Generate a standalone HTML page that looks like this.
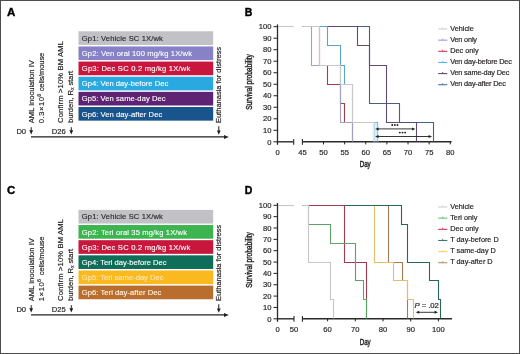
<!DOCTYPE html>
<html><head><meta charset="utf-8"><style>
html,body{margin:0;padding:0;background:#fff;}
body{width:520px;height:354px;overflow:hidden;}
svg{display:block;will-change:transform;}
text{font-family:"Liberation Sans", sans-serif;}
</style></head><body>
<svg width="520" height="354" viewBox="0 0 520 354">
<rect x="0" y="0" width="520" height="354" fill="#ffffff"/>
<text transform="translate(6.9,15.95) scale(1.09,1)" font-size="10.6" font-weight="bold" fill="#000" stroke="#000" stroke-width="0.35">A</text>
<rect x="78.5" y="31.30" width="134.7" height="13.65" fill="#c1c1c6"/>
<text x="81.8" y="40.8" font-size="7.6" fill="#231f20" stroke="#231f20" stroke-width="0.12" text-anchor="start" font-weight="normal" letter-spacing="0.130" >Gp1: Vehicle SC 1X/wk</text>
<rect x="78.5" y="46.44" width="134.7" height="13.65" fill="#8782c8"/>
<text x="81.8" y="55.94" font-size="7.6" fill="#ffffff" stroke="#ffffff" stroke-width="0.12" text-anchor="start" font-weight="normal" letter-spacing="0.120" >Gp2: Ven oral 100 mg/kg 1X/wk</text>
<rect x="78.5" y="61.58" width="134.7" height="13.65" fill="#c8163c"/>
<text x="81.8" y="71.08" font-size="7.6" fill="#ffffff" stroke="#ffffff" stroke-width="0.12" text-anchor="start" font-weight="normal" letter-spacing="0.210" >Gp3: Dec SC 0.2 mg/kg 1X/wk</text>
<rect x="78.5" y="76.72" width="134.7" height="13.65" fill="#2aa8e0"/>
<text x="81.8" y="86.22" font-size="7.6" fill="#ffffff" stroke="#ffffff" stroke-width="0.12" text-anchor="start" font-weight="normal" letter-spacing="0.032" >Gp4: Ven day-before Dec</text>
<rect x="78.5" y="91.86" width="134.7" height="13.65" fill="#5f2373"/>
<text x="81.8" y="101.36" font-size="7.6" fill="#ffffff" stroke="#ffffff" stroke-width="0.12" text-anchor="start" font-weight="normal" letter-spacing="0.050" >Gp5: Ven same-day Dec</text>
<rect x="78.5" y="107.00" width="134.7" height="13.65" fill="#19558c"/>
<text x="81.8" y="116.5" font-size="7.6" fill="#ffffff" stroke="#ffffff" stroke-width="0.12" text-anchor="start" font-weight="normal" letter-spacing="0.050" >Gp6: Ven day-after Dec</text>
<text transform="translate(33.9,123.2) rotate(-90) scale(1.0,1)" font-size="7.6" fill="#231f20" stroke="#231f20" stroke-width="0.18" text-anchor="start" >AML inoculation IV</text>
<text transform="translate(43.7,123.2) rotate(-90) scale(1.0,1)" font-size="7.6" fill="#231f20" stroke="#231f20" stroke-width="0.18" text-anchor="start" ><tspan letter-spacing="0.55">0.3×1</tspan>0<tspan font-size="5.6" dy="-3.1" dx="0.3">6</tspan><tspan dy="3.1" dx="0.3" letter-spacing="-0.15"> cells/mouse</tspan></text>
<text transform="translate(63.1,123.0) rotate(-90) scale(1.0,1)" font-size="7.6" fill="#231f20" stroke="#231f20" stroke-width="0.18" text-anchor="start" letter-spacing="0.160" >Confirm &gt;10% BM AML</text>
<text transform="translate(72.9,123.0) rotate(-90) scale(1.0,1)" font-size="7.6" fill="#231f20" stroke="#231f20" stroke-width="0.18" text-anchor="start" letter-spacing="-0.050" >burden, R<tspan font-size="5" dy="1.5">x</tspan><tspan dy="-1.5"> start</tspan></text>
<text transform="translate(221.4,123.0) rotate(-90) scale(1.0,1)" font-size="7.6" fill="#231f20" stroke="#231f20" stroke-width="0.18" text-anchor="start" letter-spacing="-0.050" >Euthanasia for distress</text>
<line x1="31.0" y1="136.8" x2="225.5" y2="136.8" stroke="#231f20" stroke-width="1.25" />
<polygon points="224.0,134.9 228.8,136.9 224.0,138.9" fill="#231f20"/>
<text x="16.4" y="133.8" font-size="7.6" fill="#231f20" stroke="#231f20" stroke-width="0.18" text-anchor="start" font-weight="normal" >D0</text>
<line x1="31.2" y1="127.2" x2="31.2" y2="131.6" stroke="#231f20" stroke-width="1.0" />
<polygon points="29.3,130.29999999999998 33.1,130.29999999999998 31.2,134.6" fill="#231f20"/>
<text x="51.7" y="133.8" font-size="7.6" fill="#231f20" stroke="#231f20" stroke-width="0.18" text-anchor="start" font-weight="normal" >D26</text>
<line x1="71.3" y1="127.2" x2="71.3" y2="131.6" stroke="#231f20" stroke-width="1.0" />
<polygon points="69.39999999999999,130.29999999999998 73.2,130.29999999999998 71.3,134.6" fill="#231f20"/>
<line x1="218.8" y1="126.2" x2="218.8" y2="131.7" stroke="#231f20" stroke-width="1.0" />
<polygon points="216.9,130.39999999999998 220.70000000000002,130.39999999999998 218.8,134.7" fill="#231f20"/>
<text transform="translate(6.9,193.95) scale(1.09,1)" font-size="10.6" font-weight="bold" fill="#000" stroke="#000" stroke-width="0.35">C</text>
<rect x="78.5" y="209.90" width="134.7" height="13.65" fill="#c1c1c6"/>
<text x="81.8" y="219.4" font-size="7.6" fill="#231f20" stroke="#231f20" stroke-width="0.12" text-anchor="start" font-weight="normal" letter-spacing="0.130" >Gp1: Vehicle SC 1X/wk</text>
<rect x="78.5" y="225.04" width="134.7" height="13.65" fill="#3cb450"/>
<text x="81.8" y="234.54" font-size="7.6" fill="#ffffff" stroke="#ffffff" stroke-width="0.12" text-anchor="start" font-weight="normal" letter-spacing="0.130" >Gp2: Teri oral 35 mg/kg 1X/wk</text>
<rect x="78.5" y="240.18" width="134.7" height="13.65" fill="#c8163c"/>
<text x="81.8" y="249.68" font-size="7.6" fill="#ffffff" stroke="#ffffff" stroke-width="0.12" text-anchor="start" font-weight="normal" letter-spacing="0.210" >Gp3: Dec SC 0.2 mg/kg 1X/wk</text>
<rect x="78.5" y="255.32" width="134.7" height="13.65" fill="#0f6e5a"/>
<text x="81.8" y="264.82" font-size="7.6" fill="#ffffff" stroke="#ffffff" stroke-width="0.12" text-anchor="start" font-weight="normal" >Gp4: Teri day-before Dec</text>
<rect x="78.5" y="270.46" width="134.7" height="13.65" fill="#fab91e"/>
<text x="81.8" y="279.96" font-size="7.6" fill="#fde7b0" stroke="#fde7b0" stroke-width="0.12" text-anchor="start" font-weight="normal" >Gp5: Teri same-day Dec</text>
<rect x="78.5" y="285.60" width="134.7" height="13.65" fill="#b96e2d"/>
<text x="81.8" y="295.1" font-size="7.6" fill="#fff4e8" stroke="#fff4e8" stroke-width="0.12" text-anchor="start" font-weight="normal" letter-spacing="0.050" >Gp6: Teri day-after Dec</text>
<text transform="translate(33.9,301.2) rotate(-90) scale(1.0,1)" font-size="7.6" fill="#231f20" stroke="#231f20" stroke-width="0.18" text-anchor="start" >AML inoculation IV</text>
<text transform="translate(43.7,301.2) rotate(-90) scale(1.0,1)" font-size="7.6" fill="#231f20" stroke="#231f20" stroke-width="0.18" text-anchor="start" ><tspan letter-spacing="0.6">1×1</tspan>0<tspan font-size="5.6" dy="-3.1" dx="0.4">6</tspan><tspan dy="3.1" dx="1.6" letter-spacing="-0.15"> cells/mouse</tspan></text>
<text transform="translate(63.1,301.0) rotate(-90) scale(1.0,1)" font-size="7.6" fill="#231f20" stroke="#231f20" stroke-width="0.18" text-anchor="start" letter-spacing="0.160" >Confirm &gt;10% BM AML</text>
<text transform="translate(72.9,301.0) rotate(-90) scale(1.0,1)" font-size="7.6" fill="#231f20" stroke="#231f20" stroke-width="0.18" text-anchor="start" letter-spacing="-0.050" >burden, R<tspan font-size="5" dy="1.5">x</tspan><tspan dy="-1.5"> start</tspan></text>
<text transform="translate(221.4,301.0) rotate(-90) scale(1.0,1)" font-size="7.6" fill="#231f20" stroke="#231f20" stroke-width="0.18" text-anchor="start" letter-spacing="-0.050" >Euthanasia for distress</text>
<line x1="31.0" y1="314.8" x2="225.5" y2="314.8" stroke="#231f20" stroke-width="1.25" />
<polygon points="224.0,312.9 228.8,314.9 224.0,316.9" fill="#231f20"/>
<text x="16.4" y="311.8" font-size="7.6" fill="#231f20" stroke="#231f20" stroke-width="0.18" text-anchor="start" font-weight="normal" >D0</text>
<line x1="31.2" y1="305.2" x2="31.2" y2="309.6" stroke="#231f20" stroke-width="1.0" />
<polygon points="29.3,308.3 33.1,308.3 31.2,312.6" fill="#231f20"/>
<text x="51.7" y="311.8" font-size="7.6" fill="#231f20" stroke="#231f20" stroke-width="0.18" text-anchor="start" font-weight="normal" >D25</text>
<line x1="71.3" y1="305.2" x2="71.3" y2="309.6" stroke="#231f20" stroke-width="1.0" />
<polygon points="69.39999999999999,308.3 73.2,308.3 71.3,312.6" fill="#231f20"/>
<line x1="218.8" y1="304.2" x2="218.8" y2="309.7" stroke="#231f20" stroke-width="1.0" />
<polygon points="216.9,308.4 220.70000000000002,308.4 218.8,312.7" fill="#231f20"/>
<text x="244.8" y="15.9" font-size="10.5" fill="#000" stroke="#000" stroke-width="0.4" text-anchor="start" font-weight="bold" >B</text>
<line x1="277.5" y1="24.4" x2="277.5" y2="144.60000000000002" stroke="#2a2a2a" stroke-width="1.3" />
<line x1="273.5" y1="141.8" x2="277.5" y2="141.8" stroke="#231f20" stroke-width="1.0" />
<text x="271.4" y="144.5" font-size="7.6" fill="#231f20" stroke="#231f20" stroke-width="0.18" text-anchor="end" font-weight="normal" >0</text>
<line x1="273.5" y1="130.29000000000002" x2="277.5" y2="130.29000000000002" stroke="#231f20" stroke-width="1.0" />
<text x="271.4" y="132.99" font-size="7.6" fill="#231f20" stroke="#231f20" stroke-width="0.18" text-anchor="end" font-weight="normal" >10</text>
<line x1="273.5" y1="118.78000000000002" x2="277.5" y2="118.78000000000002" stroke="#231f20" stroke-width="1.0" />
<text x="271.4" y="121.48" font-size="7.6" fill="#231f20" stroke="#231f20" stroke-width="0.18" text-anchor="end" font-weight="normal" >20</text>
<line x1="273.5" y1="107.27000000000001" x2="277.5" y2="107.27000000000001" stroke="#231f20" stroke-width="1.0" />
<text x="271.4" y="109.97" font-size="7.6" fill="#231f20" stroke="#231f20" stroke-width="0.18" text-anchor="end" font-weight="normal" >30</text>
<line x1="273.5" y1="95.76000000000002" x2="277.5" y2="95.76000000000002" stroke="#231f20" stroke-width="1.0" />
<text x="271.4" y="98.46" font-size="7.6" fill="#231f20" stroke="#231f20" stroke-width="0.18" text-anchor="end" font-weight="normal" >40</text>
<line x1="273.5" y1="84.25000000000001" x2="277.5" y2="84.25000000000001" stroke="#231f20" stroke-width="1.0" />
<text x="271.4" y="86.95" font-size="7.6" fill="#231f20" stroke="#231f20" stroke-width="0.18" text-anchor="end" font-weight="normal" >50</text>
<line x1="273.5" y1="72.74000000000001" x2="277.5" y2="72.74000000000001" stroke="#231f20" stroke-width="1.0" />
<text x="271.4" y="75.44" font-size="7.6" fill="#231f20" stroke="#231f20" stroke-width="0.18" text-anchor="end" font-weight="normal" >60</text>
<line x1="273.5" y1="61.230000000000004" x2="277.5" y2="61.230000000000004" stroke="#231f20" stroke-width="1.0" />
<text x="271.4" y="63.93" font-size="7.6" fill="#231f20" stroke="#231f20" stroke-width="0.18" text-anchor="end" font-weight="normal" >70</text>
<line x1="273.5" y1="49.72000000000001" x2="277.5" y2="49.72000000000001" stroke="#231f20" stroke-width="1.0" />
<text x="271.4" y="52.42" font-size="7.6" fill="#231f20" stroke="#231f20" stroke-width="0.18" text-anchor="end" font-weight="normal" >80</text>
<line x1="273.5" y1="38.21000000000001" x2="277.5" y2="38.21000000000001" stroke="#231f20" stroke-width="1.0" />
<text x="271.4" y="40.91" font-size="7.6" fill="#231f20" stroke="#231f20" stroke-width="0.18" text-anchor="end" font-weight="normal" >90</text>
<line x1="273.5" y1="26.700000000000017" x2="277.5" y2="26.700000000000017" stroke="#231f20" stroke-width="1.0" />
<text x="271.4" y="29.4" font-size="7.6" fill="#231f20" stroke="#231f20" stroke-width="0.18" text-anchor="end" font-weight="normal" >100</text>
<line x1="277.5" y1="141.8" x2="293.7" y2="141.8" stroke="#2a2a2a" stroke-width="1.4" />
<line x1="302.4" y1="141.8" x2="451.6" y2="141.8" stroke="#2a2a2a" stroke-width="1.4" />
<line x1="293.7" y1="138.9" x2="293.7" y2="144.70000000000002" stroke="#2a2a2a" stroke-width="1.1" />
<line x1="302.4" y1="138.9" x2="302.4" y2="144.70000000000002" stroke="#2a2a2a" stroke-width="1.1" />
<line x1="277.5" y1="141.8" x2="277.5" y2="144.4" stroke="#231f20" stroke-width="1.0" />
<text x="277.5" y="154.7" font-size="7.6" fill="#231f20" stroke="#231f20" stroke-width="0.18" text-anchor="middle" font-weight="normal" >0</text>
<text x="302.4" y="154.7" font-size="7.6" fill="#231f20" stroke="#231f20" stroke-width="0.18" text-anchor="middle" font-weight="normal" >45</text>
<line x1="323.52" y1="141.8" x2="323.52" y2="144.4" stroke="#231f20" stroke-width="1.0" />
<text x="323.52" y="154.7" font-size="7.6" fill="#231f20" stroke="#231f20" stroke-width="0.18" text-anchor="middle" font-weight="normal" >50</text>
<line x1="344.65" y1="141.8" x2="344.65" y2="144.4" stroke="#231f20" stroke-width="1.0" />
<text x="344.65" y="154.7" font-size="7.6" fill="#231f20" stroke="#231f20" stroke-width="0.18" text-anchor="middle" font-weight="normal" >55</text>
<line x1="365.77" y1="141.8" x2="365.77" y2="144.4" stroke="#231f20" stroke-width="1.0" />
<text x="365.77" y="154.7" font-size="7.6" fill="#231f20" stroke="#231f20" stroke-width="0.18" text-anchor="middle" font-weight="normal" >60</text>
<line x1="386.9" y1="141.8" x2="386.9" y2="144.4" stroke="#231f20" stroke-width="1.0" />
<text x="386.9" y="154.7" font-size="7.6" fill="#231f20" stroke="#231f20" stroke-width="0.18" text-anchor="middle" font-weight="normal" >65</text>
<line x1="408.02" y1="141.8" x2="408.02" y2="144.4" stroke="#231f20" stroke-width="1.0" />
<text x="408.02" y="154.7" font-size="7.6" fill="#231f20" stroke="#231f20" stroke-width="0.18" text-anchor="middle" font-weight="normal" >70</text>
<line x1="429.15" y1="141.8" x2="429.15" y2="144.4" stroke="#231f20" stroke-width="1.0" />
<text x="429.15" y="154.7" font-size="7.6" fill="#231f20" stroke="#231f20" stroke-width="0.18" text-anchor="middle" font-weight="normal" >75</text>
<line x1="450.27" y1="141.8" x2="450.27" y2="144.4" stroke="#231f20" stroke-width="1.0" />
<text x="450.27" y="154.7" font-size="7.6" fill="#231f20" stroke="#231f20" stroke-width="0.18" text-anchor="middle" font-weight="normal" >80</text>
<text transform="translate(365.2,167.4) scale(0.72,1)" font-size="8.6" fill="#231f20" stroke="#231f20" stroke-width="0.4" text-anchor="middle">Day</text>
<text transform="translate(252.3,82) rotate(-90) scale(0.80,1)" font-size="8.3" fill="#231f20" stroke="#231f20" stroke-width="0.38" text-anchor="middle">Survival probability</text>
<line x1="438.2" y1="29.0" x2="447.3" y2="29.0" stroke="#c9c9cc" stroke-width="1.0" />
<line x1="442.7" y1="27.4" x2="442.7" y2="29.0" stroke="#c9c9cc" stroke-width="0.8" />
<text x="450.2" y="30.6" font-size="7.3" fill="#231f20" stroke="#231f20" stroke-width="0.18" text-anchor="start" font-weight="normal" >Vehicle</text>
<line x1="438.2" y1="40.15" x2="447.3" y2="40.15" stroke="#9490d0" stroke-width="1.0" />
<line x1="442.7" y1="38.55" x2="442.7" y2="40.15" stroke="#9490d0" stroke-width="0.8" />
<text x="450.2" y="41.75" font-size="7.3" fill="#231f20" stroke="#231f20" stroke-width="0.18" text-anchor="start" font-weight="normal" letter-spacing="-0.170" >Ven only</text>
<line x1="438.2" y1="51.3" x2="447.3" y2="51.3" stroke="#c8284a" stroke-width="1.0" />
<line x1="442.7" y1="49.699999999999996" x2="442.7" y2="51.3" stroke="#c8284a" stroke-width="0.8" />
<text x="450.2" y="52.9" font-size="7.3" fill="#231f20" stroke="#231f20" stroke-width="0.18" text-anchor="start" font-weight="normal" >Dec only</text>
<line x1="438.2" y1="62.45" x2="447.3" y2="62.45" stroke="#48b4e0" stroke-width="1.0" />
<line x1="442.7" y1="60.85" x2="442.7" y2="62.45" stroke="#48b4e0" stroke-width="0.8" />
<text x="450.2" y="64.05" font-size="7.3" fill="#231f20" stroke="#231f20" stroke-width="0.18" text-anchor="start" font-weight="normal" letter-spacing="-0.170" >Ven day-before Dec</text>
<line x1="438.2" y1="73.6" x2="447.3" y2="73.6" stroke="#5a3a6e" stroke-width="1.0" />
<line x1="442.7" y1="72.0" x2="442.7" y2="73.6" stroke="#5a3a6e" stroke-width="0.8" />
<text x="450.2" y="75.2" font-size="7.3" fill="#231f20" stroke="#231f20" stroke-width="0.18" text-anchor="start" font-weight="normal" letter-spacing="-0.170" >Ven same-day Dec</text>
<line x1="438.2" y1="84.75" x2="447.3" y2="84.75" stroke="#3a6496" stroke-width="1.0" />
<line x1="442.7" y1="83.15" x2="442.7" y2="84.75" stroke="#3a6496" stroke-width="0.8" />
<text x="450.2" y="86.35" font-size="7.3" fill="#231f20" stroke="#231f20" stroke-width="0.18" text-anchor="start" font-weight="normal" letter-spacing="-0.170" >Ven day-after Dec</text>
<polyline points="302.4,26.5 369.5,26.5 369.5,103.5 399.5,103.5 399.5,122.5 433.5,122.5 433.5,141.5" fill="none" stroke="#426289" stroke-width="1.1" stroke-linejoin="miter" stroke-linecap="butt"/>
<polyline points="302.4,26.5 357.5,26.5 357.5,45.5 369.5,45.5 369.5,65.5 386.5,65.5 386.5,122.5 416.5,122.5 416.5,141.5" fill="none" stroke="#5f4a70" stroke-width="1.1" stroke-linejoin="miter" stroke-linecap="butt"/>
<polyline points="302.4,26.5 327.5,26.5 327.5,45.5 340.5,45.5 340.5,65.5 344.5,65.5 344.5,84.5 352.5,84.5 352.5,122.5 377.5,122.5 377.5,141.5" fill="none" stroke="#59a5c9" stroke-width="1.1" stroke-linejoin="miter" stroke-linecap="butt"/>
<polyline points="302.4,26.5 319.5,26.5 319.5,65.5 327.5,65.5 327.5,84.5 340.5,84.5 340.5,103.5 344.5,103.5 344.5,122.5 352.5,122.5 352.5,141.5" fill="none" stroke="#a53b51" stroke-width="1.1" stroke-linejoin="miter" stroke-linecap="butt"/>
<polyline points="302.4,26.5 311.5,26.5 311.5,65.5 340.5,65.5 340.5,122.5 352.5,122.5 352.5,141.5" fill="none" stroke="#a39fc2" stroke-width="1.1" stroke-linejoin="miter" stroke-linecap="butt"/>
<line x1="278.0" y1="26.5" x2="293.7" y2="26.5" stroke="#c8c8cb" stroke-width="1.1"/>
<polyline points="302.4,26.5 319.5,26.5 319.5,65.5 340.5,65.5 340.5,84.5 352.5,84.5 352.5,122.5 374.5,122.5 374.5,141.5" fill="none" stroke="#c8c8cb" stroke-width="1.1" stroke-linejoin="miter" stroke-linecap="butt"/>
<rect x="372.6" y="122.5" width="6.0" height="19.0" fill="#bfe6f5" opacity="0.55"/>
<line x1="377.7" y1="128.9" x2="412.9" y2="128.9" stroke="#231f20" stroke-width="0.9" />
<polygon points="375.2,128.9 378.59999999999997,127.4 378.59999999999997,130.4" fill="#231f20"/>
<polygon points="415.4,128.9 412.0,127.4 412.0,130.4" fill="#231f20"/>
<line x1="377.7" y1="136.5" x2="429.5" y2="136.5" stroke="#231f20" stroke-width="0.9" />
<polygon points="375.2,136.5 378.59999999999997,135.0 378.59999999999997,138.0" fill="#231f20"/>
<polygon points="432.0,136.5 428.6,135.0 428.6,138.0" fill="#231f20"/>
<circle cx="392.20" cy="125.0" r="0.95" fill="#231f20"/>
<circle cx="394.85" cy="125.0" r="0.95" fill="#231f20"/>
<circle cx="397.50" cy="125.0" r="0.95" fill="#231f20"/>
<circle cx="399.80" cy="132.6" r="0.95" fill="#231f20"/>
<circle cx="402.45" cy="132.6" r="0.95" fill="#231f20"/>
<circle cx="405.10" cy="132.6" r="0.95" fill="#231f20"/>
<text x="244.8" y="193.9" font-size="10.5" fill="#000" stroke="#000" stroke-width="0.4" text-anchor="start" font-weight="bold" >D</text>
<line x1="277.5" y1="203.0" x2="277.5" y2="321.6" stroke="#2a2a2a" stroke-width="1.3" />
<line x1="273.5" y1="318.8" x2="277.5" y2="318.8" stroke="#231f20" stroke-width="1.0" />
<text x="271.4" y="321.5" font-size="7.6" fill="#231f20" stroke="#231f20" stroke-width="0.18" text-anchor="end" font-weight="normal" >0</text>
<line x1="273.5" y1="307.45" x2="277.5" y2="307.45" stroke="#231f20" stroke-width="1.0" />
<text x="271.4" y="310.15" font-size="7.6" fill="#231f20" stroke="#231f20" stroke-width="0.18" text-anchor="end" font-weight="normal" >10</text>
<line x1="273.5" y1="296.1" x2="277.5" y2="296.1" stroke="#231f20" stroke-width="1.0" />
<text x="271.4" y="298.8" font-size="7.6" fill="#231f20" stroke="#231f20" stroke-width="0.18" text-anchor="end" font-weight="normal" >20</text>
<line x1="273.5" y1="284.75" x2="277.5" y2="284.75" stroke="#231f20" stroke-width="1.0" />
<text x="271.4" y="287.45" font-size="7.6" fill="#231f20" stroke="#231f20" stroke-width="0.18" text-anchor="end" font-weight="normal" >30</text>
<line x1="273.5" y1="273.40000000000003" x2="277.5" y2="273.40000000000003" stroke="#231f20" stroke-width="1.0" />
<text x="271.4" y="276.1" font-size="7.6" fill="#231f20" stroke="#231f20" stroke-width="0.18" text-anchor="end" font-weight="normal" >40</text>
<line x1="273.5" y1="262.05" x2="277.5" y2="262.05" stroke="#231f20" stroke-width="1.0" />
<text x="271.4" y="264.75" font-size="7.6" fill="#231f20" stroke="#231f20" stroke-width="0.18" text-anchor="end" font-weight="normal" >50</text>
<line x1="273.5" y1="250.70000000000002" x2="277.5" y2="250.70000000000002" stroke="#231f20" stroke-width="1.0" />
<text x="271.4" y="253.4" font-size="7.6" fill="#231f20" stroke="#231f20" stroke-width="0.18" text-anchor="end" font-weight="normal" >60</text>
<line x1="273.5" y1="239.35000000000002" x2="277.5" y2="239.35000000000002" stroke="#231f20" stroke-width="1.0" />
<text x="271.4" y="242.05" font-size="7.6" fill="#231f20" stroke="#231f20" stroke-width="0.18" text-anchor="end" font-weight="normal" >70</text>
<line x1="273.5" y1="228.0" x2="277.5" y2="228.0" stroke="#231f20" stroke-width="1.0" />
<text x="271.4" y="230.7" font-size="7.6" fill="#231f20" stroke="#231f20" stroke-width="0.18" text-anchor="end" font-weight="normal" >80</text>
<line x1="273.5" y1="216.65" x2="277.5" y2="216.65" stroke="#231f20" stroke-width="1.0" />
<text x="271.4" y="219.35" font-size="7.6" fill="#231f20" stroke="#231f20" stroke-width="0.18" text-anchor="end" font-weight="normal" >90</text>
<line x1="273.5" y1="205.3" x2="277.5" y2="205.3" stroke="#231f20" stroke-width="1.0" />
<text x="271.4" y="208.0" font-size="7.6" fill="#231f20" stroke="#231f20" stroke-width="0.18" text-anchor="end" font-weight="normal" >100</text>
<line x1="277.5" y1="318.8" x2="294.0" y2="318.8" stroke="#2a2a2a" stroke-width="1.4" />
<line x1="302.4" y1="318.8" x2="452.0" y2="318.8" stroke="#2a2a2a" stroke-width="1.4" />
<line x1="294.0" y1="315.90000000000003" x2="294.0" y2="321.7" stroke="#2a2a2a" stroke-width="1.1" />
<line x1="302.4" y1="315.90000000000003" x2="302.4" y2="321.7" stroke="#2a2a2a" stroke-width="1.1" />
<line x1="277.5" y1="318.8" x2="277.5" y2="321.40000000000003" stroke="#231f20" stroke-width="1.0" />
<text x="277.5" y="331.7" font-size="7.6" fill="#231f20" stroke="#231f20" stroke-width="0.18" text-anchor="middle" font-weight="normal" >0</text>
<text x="294.0" y="331.7" font-size="7.6" fill="#231f20" stroke="#231f20" stroke-width="0.18" text-anchor="middle" font-weight="normal" >50</text>
<line x1="327.6" y1="318.8" x2="327.6" y2="321.40000000000003" stroke="#231f20" stroke-width="1.0" />
<text x="327.6" y="331.7" font-size="7.6" fill="#231f20" stroke="#231f20" stroke-width="0.18" text-anchor="middle" font-weight="normal" >60</text>
<line x1="355.3" y1="318.8" x2="355.3" y2="321.40000000000003" stroke="#231f20" stroke-width="1.0" />
<text x="355.3" y="331.7" font-size="7.6" fill="#231f20" stroke="#231f20" stroke-width="0.18" text-anchor="middle" font-weight="normal" >70</text>
<line x1="383.0" y1="318.8" x2="383.0" y2="321.40000000000003" stroke="#231f20" stroke-width="1.0" />
<text x="383.0" y="331.7" font-size="7.6" fill="#231f20" stroke="#231f20" stroke-width="0.18" text-anchor="middle" font-weight="normal" >80</text>
<line x1="410.7" y1="318.8" x2="410.7" y2="321.40000000000003" stroke="#231f20" stroke-width="1.0" />
<text x="410.7" y="331.7" font-size="7.6" fill="#231f20" stroke="#231f20" stroke-width="0.18" text-anchor="middle" font-weight="normal" >90</text>
<line x1="438.4" y1="318.8" x2="438.4" y2="321.40000000000003" stroke="#231f20" stroke-width="1.0" />
<text x="438.4" y="331.7" font-size="7.6" fill="#231f20" stroke="#231f20" stroke-width="0.18" text-anchor="middle" font-weight="normal" >100</text>
<text transform="translate(365.2,345.4) scale(0.72,1)" font-size="8.6" fill="#231f20" stroke="#231f20" stroke-width="0.4" text-anchor="middle">Day</text>
<text transform="translate(252.3,260) rotate(-90) scale(0.80,1)" font-size="8.3" fill="#231f20" stroke="#231f20" stroke-width="0.38" text-anchor="middle">Survival probability</text>
<line x1="438.2" y1="207.0" x2="447.3" y2="207.0" stroke="#c9c9cc" stroke-width="1.0" />
<line x1="442.7" y1="205.4" x2="442.7" y2="207.0" stroke="#c9c9cc" stroke-width="0.8" />
<text x="450.2" y="208.6" font-size="7.3" fill="#231f20" stroke="#231f20" stroke-width="0.18" text-anchor="start" font-weight="normal" >Vehicle</text>
<line x1="438.2" y1="218.15" x2="447.3" y2="218.15" stroke="#5cb872" stroke-width="1.0" />
<line x1="442.7" y1="216.55" x2="442.7" y2="218.15" stroke="#5cb872" stroke-width="0.8" />
<text x="450.2" y="219.75" font-size="7.3" fill="#231f20" stroke="#231f20" stroke-width="0.18" text-anchor="start" font-weight="normal" >Teri only</text>
<line x1="438.2" y1="229.3" x2="447.3" y2="229.3" stroke="#c8284a" stroke-width="1.0" />
<line x1="442.7" y1="227.70000000000002" x2="442.7" y2="229.3" stroke="#c8284a" stroke-width="0.8" />
<text x="450.2" y="230.9" font-size="7.3" fill="#231f20" stroke="#231f20" stroke-width="0.18" text-anchor="start" font-weight="normal" >Dec only</text>
<line x1="438.2" y1="240.45" x2="447.3" y2="240.45" stroke="#2a6e68" stroke-width="1.0" />
<line x1="442.7" y1="238.85" x2="442.7" y2="240.45" stroke="#2a6e68" stroke-width="0.8" />
<text x="450.2" y="242.05" font-size="7.3" fill="#231f20" stroke="#231f20" stroke-width="0.18" text-anchor="start" font-weight="normal" >T day-before D</text>
<line x1="438.2" y1="251.6" x2="447.3" y2="251.6" stroke="#f4cc60" stroke-width="1.0" />
<line x1="442.7" y1="250.0" x2="442.7" y2="251.6" stroke="#f4cc60" stroke-width="0.8" />
<text x="450.2" y="253.2" font-size="7.3" fill="#231f20" stroke="#231f20" stroke-width="0.18" text-anchor="start" font-weight="normal" >T same-day D</text>
<line x1="438.2" y1="262.75" x2="447.3" y2="262.75" stroke="#b08458" stroke-width="1.0" />
<line x1="442.7" y1="261.15" x2="442.7" y2="262.75" stroke="#b08458" stroke-width="0.8" />
<text x="450.2" y="264.35" font-size="7.3" fill="#231f20" stroke="#231f20" stroke-width="0.18" text-anchor="start" font-weight="normal" >T day-after D</text>
<polyline points="302.4,205.5 388.5,205.5 388.5,262.5 402.5,262.5 402.5,280.5 407.5,280.5 407.5,318.5" fill="none" stroke="#a67c54" stroke-width="1.1" stroke-linejoin="miter" stroke-linecap="butt"/>
<polyline points="302.4,205.5 374.5,205.5 374.5,262.5 393.5,262.5 393.5,280.5 407.5,280.5 407.5,299.5 413.5,299.5 413.5,318.5" fill="none" stroke="#e3bf69" stroke-width="1.1" stroke-linejoin="miter" stroke-linecap="butt"/>
<polyline points="302.4,205.5 401.5,205.5 401.5,224.5 407.5,224.5 407.5,262.5 429.5,262.5 429.5,280.5 438.5,280.5 438.5,299.5 440.5,299.5 440.5,318.5" fill="none" stroke="#2e655a" stroke-width="1.1" stroke-linejoin="miter" stroke-linecap="butt"/>
<polyline points="302.4,205.5 344.5,205.5 344.5,262.5 366.5,262.5 366.5,318.5" fill="none" stroke="#a23a50" stroke-width="1.1" stroke-linejoin="miter" stroke-linecap="butt"/>
<polyline points="302.4,205.5 308.5,205.5 308.5,224.5 330.5,224.5 330.5,243.5 355.5,243.5 355.5,280.5 363.5,280.5 363.5,299.5 366.5,299.5 366.5,318.5" fill="none" stroke="#5da26b" stroke-width="1.1" stroke-linejoin="miter" stroke-linecap="butt"/>
<line x1="278.0" y1="205.5" x2="294.0" y2="205.5" stroke="#c6c6c9" stroke-width="1.1"/>
<polyline points="302.4,205.5 308.5,205.5 308.5,262.5 330.5,262.5 330.5,299.5 333.5,299.5 333.5,318.5" fill="none" stroke="#c6c6c9" stroke-width="1.1" stroke-linejoin="miter" stroke-linecap="butt"/>
<line x1="418.3" y1="312.3" x2="435.5" y2="312.3" stroke="#231f20" stroke-width="0.9" />
<polygon points="415.8,312.3 419.2,310.8 419.2,313.8" fill="#231f20"/>
<polygon points="438.0,312.3 434.6,310.8 434.6,313.8" fill="#231f20"/>
<text x="414.6" y="307.8" font-size="7.8" fill="#231f20" stroke="#231f20" stroke-width="0.2" letter-spacing="-0.1"><tspan font-style="italic">P</tspan> = .02</text>
<rect x="0.5" y="0.5" width="519" height="353" fill="none" stroke="#4c4c4c" stroke-width="1"/>
</svg>
</body></html>
